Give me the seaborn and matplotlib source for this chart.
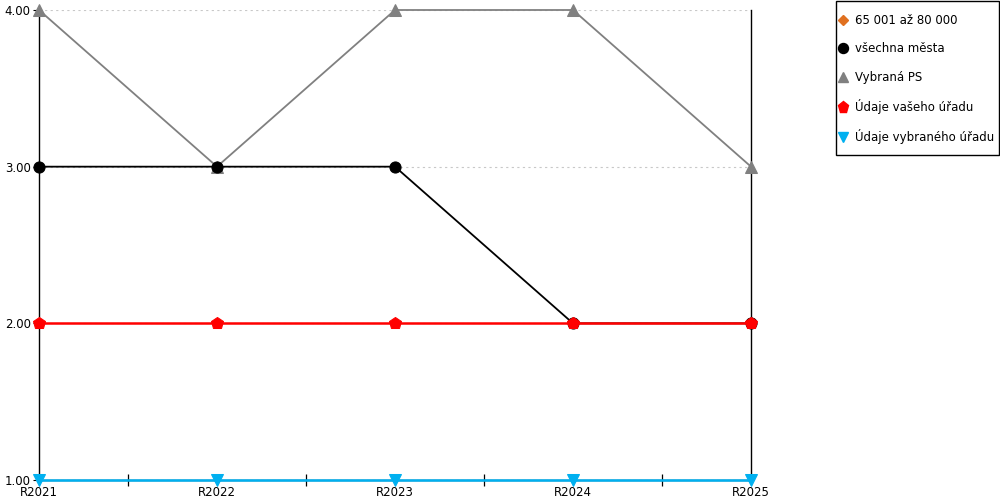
import matplotlib
matplotlib.use("Agg")
import matplotlib.pyplot as plt
from matplotlib.patches import Rectangle
import seaborn as sns
import numpy as np
import pandas as pd

categories = ["R2021", "R2022", "R2023", "R2024", "R2025"]
s_velikost = [np.nan, np.nan, np.nan, np.nan, np.nan]   # 65 001 až 80 000 (no data)
s_vsechna = [3, 3, 3, 2, 2]
s_vybrana_ps = [4, 3, 4, 4, 3]
s_vas_urad = [2, 2, 2, 2, 2]
s_vybrany_urad = [1, 1, 1, 1, 1]
y_ticks = [1, 2, 3, 4]

series = [
    ("65 001 až 80 000", s_velikost, "#e07020", "D", 6),
    ("Vybraná PS", s_vybrana_ps, "#808080", "^", 8),
    ("všechna města", s_vsechna, "#000000", "o", 8),
    ("Údaje vašeho úřadu", s_vas_urad, "#ff0000", "p", 9),
    ("Údaje vybraného úřadu", s_vybrany_urad, "#00b0f0", "v", 8),
]
legend_order = ["65 001 až 80 000", "všechna města", "Vybraná PS",
                "Údaje vašeho úřadu", "Údaje vybraného úřadu"]

sns.set_style("white")
plt.rcParams['font.family'] = ['DejaVu Sans']

fig = plt.figure(figsize=(10, 5), dpi=100)
ax = fig.add_axes([0.039, 0.04, 0.712, 0.94])

xpos = np.arange(len(categories))
handles = {}
for i, (name, vals, col, mk, ms) in enumerate(series):
    df = pd.DataFrame({"x": xpos, "y": vals})
    sns.lineplot(data=df, x="x", y="y", ax=ax, color=col, marker=mk,
                 markersize=ms, markeredgecolor=col,
                 linewidth=1.8 if col in ("#ff0000", "#00b0f0") else 1.3,
                 clip_on=False, zorder=3 + i, label=name, legend=False)
    handles[name] = plt.Line2D([], [], color=col, marker=mk, linestyle="none",
                               markersize=ms * 0.9, markeredgecolor=col)

ax.set_xlim(0, 4)
ax.set_ylim(1, 4)
ax.set_xticks(xpos)
ax.set_xticklabels(categories, fontsize=8.5)
ax.set_xticks(xpos[:-1] + 0.5, minor=True)
ax.tick_params(axis="x", which="major", length=0, pad=4.5, bottom=True)
ax.tick_params(axis="x", which="minor", length=9, direction="inout", color="black",
               width=0.9, bottom=True)
ax.set_yticks(y_ticks)
ax.set_yticklabels([f"{v:.2f}" for v in y_ticks], fontsize=8.5)
ax.tick_params(axis="y", which="major", length=4, direction="out", color="black", width=0.8, pad=2, left=True)
ax.set_xlabel("")
ax.set_ylabel("")

ax.yaxis.grid(True, color="#c8c8c8", linestyle=(0, (2, 3)), linewidth=0.8)
ax.set_axisbelow(True)

for side in ["left", "right", "bottom"]:
    ax.spines[side].set_visible(True)
    ax.spines[side].set_color("black")
    ax.spines[side].set_linewidth(1.0)
ax.spines["top"].set_visible(False)

# legend frame drawn separately for exact placement
fig.patches.append(Rectangle((0.8355, 1 - 155 / 500), 0.999 - 0.8355, (155 - 1) / 500,
                             transform=fig.transFigure, fill=False,
                             edgecolor="black", linewidth=1.0))
leg = fig.legend([handles[n] for n in legend_order], legend_order,
                 loc="upper left", bbox_to_anchor=(0.838, 1 - 14 / 500),
                 frameon=False, fontsize=8.5,
                 handlelength=0.9, handletextpad=0.55, labelspacing=1.3,
                 borderpad=0, borderaxespad=0)
for t in leg.get_texts():
    t.set_color("black")
for t in ax.get_xticklabels() + ax.get_yticklabels():
    t.set_color("black")

fig.savefig("out.png", dpi=100)
